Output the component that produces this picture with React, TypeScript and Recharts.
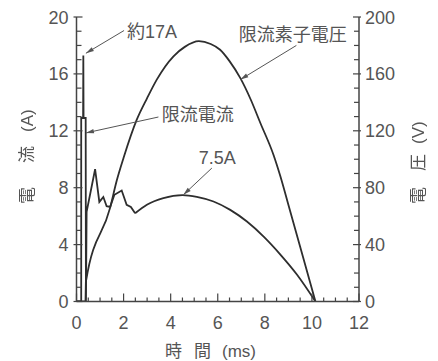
import React from 'react';
import { LineChart, Line, XAxis, YAxis, ReferenceLine, ReferenceDot, Label } from 'recharts';

// ---- axis ticks ----
const timeTicks = [0, 0.5, 1, 1.5, 2, 2.5, 3, 3.5, 4, 4.5, 5, 5.5, 6, 6.5, 7, 7.5, 8, 8.5, 9, 9.5, 10, 10.5, 11, 11.5, 12];
const timeLabels = [0, 2, 4, 6, 8, 10, 12];
const currentTicks = [0, 1, 2, 3, 4, 5, 6, 7, 8, 9, 10, 11, 12, 13, 14, 15, 16, 17, 18, 19, 20];
const currentLabels = [0, 4, 8, 12, 16, 20];
const voltageTicks = [0, 10, 20, 30, 40, 50, 60, 70, 80, 90, 100, 110, 120, 130, 140, 150, 160, 170, 180, 190, 200];
const voltageLabels = [0, 40, 80, 120, 160, 200];

// ---- series (t: ms, a: A, v: V) ----
const currentEarly = [
  { t: 0, a: 0 }, { t: 0.2, a: 0 }, { t: 0.2, a: 12.9 }, { t: 0.28, a: 12.9 }, { t: 0.29, a: 17.3 },
  { t: 0.3, a: 12.9 }, { t: 0.39, a: 12.9 }, { t: 0.4, a: 0 }, { t: 0.43, a: 6.3 }, { t: 0.79, a: 9.3 },
  { t: 0.97, a: 7.0 }, { t: 1.14, a: 7.35 }, { t: 1.28, a: 6.7 }, { t: 1.43, a: 6.65 }, { t: 1.61, a: 7.5 },
  { t: 1.92, a: 7.8 }, { t: 2.13, a: 6.8 }, { t: 2.31, a: 6.65 }, { t: 2.49, a: 6.2 },
];
const currentLate = [
  { t: 2.49, a: 6.2 }, { t: 2.99, a: 6.8 }, { t: 3.69, a: 7.27 }, { t: 4.5, a: 7.48 }, { t: 5.11, a: 7.36 },
  { t: 5.82, a: 7.03 }, { t: 6.53, a: 6.44 }, { t: 7.24, a: 5.62 }, { t: 7.95, a: 4.56 }, { t: 8.66, a: 3.3 },
  { t: 9.37, a: 1.88 }, { t: 10.15, a: 0 },
];
const voltage = [
  { t: 0, v: 0 }, { t: 0.38, v: 0 }, { t: 0.4, v: 14 }, { t: 1.43, v: 66 }, { t: 1.71, v: 85 },
  { t: 2.0, v: 101 }, { t: 2.56, v: 127.8 }, { t: 3.0, v: 143 }, { t: 3.41, v: 156 }, { t: 4.12, v: 172.4 },
  { t: 4.6, v: 179 }, { t: 5.2, v: 183 }, { t: 5.7, v: 181 }, { t: 6.1, v: 177 }, { t: 6.5, v: 169 },
  { t: 6.96, v: 157 }, { t: 7.4, v: 142 }, { t: 7.81, v: 125.5 }, { t: 8.37, v: 103 }, { t: 8.66, v: 88 },
  { t: 9.0, v: 68 }, { t: 9.5, v: 38.5 }, { t: 10.15, v: 0 },
];

// ---- annotations (in time / current units) ----
const annotationTexts = ['約17A', '限流素子電圧', '限流電流', '7.5A'];
const annotationAt = [
  { t: 3.21, a: 18.98 }, { t: 9.19, a: 18.8 }, { t: 5.15, a: 13.17 }, { t: 5.98, a: 10.14 },
];
const pointerFrom = [
  { t: 2.02, a: 19.05 }, { t: 9.34, a: 18.0 }, { t: 3.48, a: 12.97 }, { t: 5.75, a: 9.38 },
];
const pointerTo = [
  { t: 0.4, a: 17.45 }, { t: 6.96, a: 15.6 }, { t: 0.4, a: 11.85 }, { t: 4.54, a: 7.5 },
];

const FONT = '"Liberation Sans", Arial, "Noto Sans CJK JP", sans-serif';
const TEXT = '#555';
const INK = '#2e2e2e';
const AXIS = '#444';
const FS = 18;

const XTick = (p: any) => {
  const { x, y, payload } = p;
  const v = payload.value;
  const major = Math.abs(v % 2) < 1e-6;
  return (
    <g>
      <line x1={x} y1={y} x2={x} y2={y - (major ? 8 : 4)} stroke={AXIS} strokeWidth={1.2} />
      {timeLabels.includes(v) && (
        <text x={x} y={y + 27} textAnchor="middle" fill={TEXT} fontSize={FS} fontFamily={FONT}>{v}</text>
      )}
    </g>
  );
};

const LeftTick = (p: any) => {
  const { x, y, payload } = p;
  const v = payload.value;
  const major = currentLabels.includes(v);
  return (
    <g>
      <line x1={major ? x - 3 : x} y1={y} x2={x + (major ? 6 : 5)} y2={y} stroke={AXIS} strokeWidth={1.2} />
      {major && (
        <text x={x - 8} y={y + 6.5} textAnchor="end" fill={TEXT} fontSize={FS} fontFamily={FONT}>{v}</text>
      )}
    </g>
  );
};

const RightTick = (p: any) => {
  const { x, y, payload } = p;
  const v = payload.value;
  const major = voltageLabels.includes(v);
  return (
    <g>
      <line x1={major ? x + 2 : x} y1={y} x2={x - (major ? 6 : 5)} y2={y} stroke={AXIS} strokeWidth={1.2} />
      {major && (
        <text x={x + 6} y={y + 6.5} textAnchor="start" fill={TEXT} fontSize={FS} fontFamily={FONT}>{v}</text>
      )}
    </g>
  );
};

const Pointer = (p: any) => {
  const { x1, y1, x2, y2 } = p;
  const ang = Math.atan2(y2 - y1, x2 - x1);
  const L = 8, W = 2.2;
  const bx = x2 - L * Math.cos(ang), by = y2 - L * Math.sin(ang);
  const nx = -Math.sin(ang) * W, ny = Math.cos(ang) * W;
  return (
    <g>
      <line x1={x1} y1={y1} x2={x2} y2={y2} stroke="#555" strokeWidth={1} />
      <polygon points={`${x2},${y2} ${bx + nx},${by + ny} ${bx - nx},${by - ny}`} fill="#555" />
    </g>
  );
};

const makeText = (s: string) => (p: any) => (
  <text x={p.cx} y={p.cy} dy="0.36em" textAnchor="middle" fill={TEXT} fontSize={FS} fontFamily={FONT}>{s}</text>
);

const CJK = '"Noto Sans CJK JP", sans-serif';

const GrayFilter = () => (
  <defs>
    <filter id="grayText" x="-20%" y="-20%" width="140%" height="140%">
      <feColorMatrix type="saturate" values="0" />
    </filter>
  </defs>
);

const LeftTitle = () => (
  <g>
    <GrayFilter />
    <g transform="translate(33,204) rotate(-90)" filter="url(#grayText)">
      <text x={0} y={0} fill={TEXT} fontSize={17} fontFamily={CJK}>電</text>
      <text x={41} y={0} fill={TEXT} fontSize={17} fontFamily={CJK}>流</text>
      <text x={72} y={0} fill={TEXT} fontSize={17} fontFamily={FONT}>(A)</text>
    </g>
  </g>
);

const RightTitle = () => (
  <g transform="translate(424,204) rotate(-90)" filter="url(#grayText)">
    <text x={0} y={0} fill={TEXT} fontSize={17} fontFamily={CJK}>電</text>
    <text x={33} y={0} fill={TEXT} fontSize={17} fontFamily={CJK}>圧</text>
    <text x={60} y={0} fill={TEXT} fontSize={17} fontFamily={FONT}>(V)</text>
  </g>
);

const BottomTitle = () => (
  <text y={357} fill={TEXT} fontSize={17} fontFamily={FONT}>
    <tspan x={165}>時</tspan>
    <tspan x={194}>間</tspan>
    <tspan x={222}>(ms)</tspan>
  </text>
);

export default function App() {
  return (
    <div style={{ position: 'absolute', left: 0, top: 0, width: 438, height: 361, background: '#fff' }}>
      <LineChart width={438} height={361} margin={{ top: 17, right: 29, bottom: 29.5, left: 26.5 }}>
        <XAxis
          type="number"
          dataKey="t"
          domain={[0, 12]}
          ticks={timeTicks}
          interval={0}
          tickSize={0}
          tickMargin={0}
          height={30}
          axisLine={{ stroke: AXIS, strokeWidth: 1.5 }}
          tickLine={false}
          tick={XTick}
          allowDataOverflow
        >
          <Label content={BottomTitle} />
        </XAxis>
        <YAxis
          yAxisId="left"
          type="number"
          domain={[0, 20]}
          ticks={currentTicks}
          interval={0}
          tickSize={0}
          tickMargin={0}
          width={50}
          axisLine={{ stroke: AXIS, strokeWidth: 1.5 }}
          tickLine={false}
          tick={LeftTick}
          allowDataOverflow
        >
          <Label content={LeftTitle} />
        </YAxis>
        <YAxis
          yAxisId="right"
          orientation="right"
          type="number"
          domain={[0, 200]}
          ticks={voltageTicks}
          interval={0}
          tickSize={0}
          tickMargin={0}
          width={50}
          axisLine={{ stroke: AXIS, strokeWidth: 1.5 }}
          tickLine={false}
          tick={RightTick}
          allowDataOverflow
        >
          <Label content={RightTitle} />
        </YAxis>

        <Line yAxisId="right" data={voltage} dataKey="v" type="monotone" stroke={INK} strokeWidth={1.8} dot={false} isAnimationActive={false} />
        <Line yAxisId="left" data={currentEarly} dataKey="a" type="linear" stroke={INK} strokeWidth={1.8} dot={false} isAnimationActive={false} />
        <Line yAxisId="left" data={currentLate} dataKey="a" type="monotone" stroke={INK} strokeWidth={1.8} dot={false} isAnimationActive={false} />

        {annotationTexts.map((s, i) => (
          <ReferenceLine
            key={'p' + i}
            yAxisId="left"
            segment={[{ x: pointerFrom[i].t, y: pointerFrom[i].a }, { x: pointerTo[i].t, y: pointerTo[i].a }]}
            shape={Pointer}
            ifOverflow="visible"
          />
        ))}
        {annotationTexts.map((s, i) => (
          <ReferenceDot
            key={'t' + i}
            yAxisId="left"
            x={annotationAt[i].t}
            y={annotationAt[i].a}
            r={0}
            ifOverflow="visible"
            shape={makeText(s)}
          />
        ))}
      </LineChart>
    </div>
  );
}
